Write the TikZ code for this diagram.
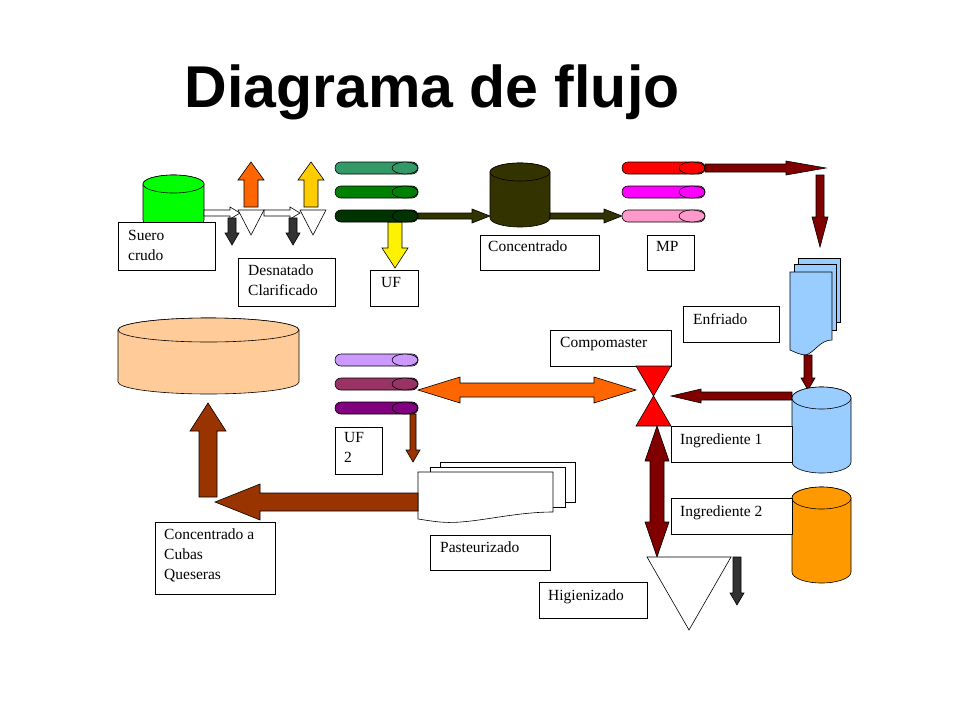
\documentclass[tikz,border=0pt]{standalone}
\usepackage{fontspec}
\setmainfont{Liberation Serif}
\newfontfamily\serifx{Liberation Serif}
\newfontfamily\titlefont{Liberation Sans}
\begin{document}
\begin{tikzpicture}[x=1pt,y=-1pt,line join=miter,
  box/.style={draw=black,fill=white,line width=0.8pt,inner sep=0pt,anchor=north west},
  lbl/.style={anchor=north west,inner sep=0pt,align=left,font=\serifx\fontsize{15.5}{20}\selectfont},
  sh/.style={draw=black,line width=0.6pt}]
\newcommand\BarR[7]{\fill[#7,sh] (#1,{#3-#4})--({#2-#6},{#3-#4})--({#2-#6},{#3-#5})--(#2,#3)--({#2-#6},{#3+#5})--({#2-#6},{#3+#4})--(#1,{#3+#4})--cycle;}
\newcommand\BarL[7]{\fill[#7,sh] (#1,{#3-#4})--({#2+#6},{#3-#4})--({#2+#6},{#3-#5})--(#2,#3)--({#2+#6},{#3+#5})--({#2+#6},{#3+#4})--(#1,{#3+#4})--cycle;}
\newcommand\BarD[7]{\fill[#7,sh] ({#1-#4},#2)--({#1-#4},{#3-#6})--({#1-#5},{#3-#6})--(#1,#3)--({#1+#5},{#3-#6})--({#1+#4},{#3-#6})--({#1+#4},#2)--cycle;}
\newcommand\BarU[7]{\fill[#7,sh] ({#1-#4},#2)--({#1-#4},{#3+#6})--({#1-#5},{#3+#6})--(#1,#3)--({#1+#5},{#3+#6})--({#1+#4},{#3+#6})--({#1+#4},#2)--cycle;}
\newcommand\BarLR[7]{\fill[#7,sh] (#1,#3)--({#1+#6},{#3-#5})--({#1+#6},{#3-#4})--({#2-#6},{#3-#4})--({#2-#6},{#3-#5})--(#2,#3)--({#2-#6},{#3+#5})--({#2-#6},{#3+#4})--({#1+#6},{#3+#4})--({#1+#6},{#3+#5})--cycle;}
\newcommand\BarUD[7]{\fill[#7,sh] (#1,#2)--({#1-#5},{#2+#6})--({#1-#4},{#2+#6})--({#1-#4},{#3-#6})--({#1-#5},{#3-#6})--(#1,#3)--({#1+#5},{#3-#6})--({#1+#4},{#3-#6})--({#1+#4},{#2+#6})--({#1+#5},{#2+#6})--cycle;}
\newcommand\Cyl[6]{\fill[#6,sh] (#1,#2)--(#1,{#2+#4}) arc[start angle=180,end angle=0,x radius={#3/2},y radius=#5]--({#1+#3},#2) arc[start angle=0,end angle=-180,x radius={#3/2},y radius=#5]--cycle;
  \fill[#6,sh] ({#1+#3/2},#2) ellipse[x radius={#3/2},y radius=#5];}
\newcommand\Pill[3]{\fill[#3,sh,rounded corners=6] (#1,{#2-6}) rectangle ({#1+83},{#2+6});
  \fill[#3,sh] ({#1+70},#2) ellipse[x radius=13,y radius=6];}
\definecolor{olive3}{HTML}{333300}
\definecolor{dred}{HTML}{800000}
\definecolor{brn}{HTML}{993300}
\definecolor{dgray}{HTML}{333333}
\definecolor{gA}{HTML}{339966}
\definecolor{gB}{HTML}{008000}
\definecolor{gC}{HTML}{003300}
\definecolor{lgreen}{HTML}{00FF00}
\definecolor{orA}{HTML}{FF6600}
\definecolor{yeA}{HTML}{FFCC00}
\definecolor{mag}{HTML}{FF00FF}
\definecolor{pnk}{HTML}{FF99CC}
\definecolor{lblue}{HTML}{99CCFF}
\definecolor{orB}{HTML}{FF9900}
\definecolor{peach}{HTML}{FFCC99}
\definecolor{pA}{HTML}{CC99FF}
\definecolor{pB}{HTML}{993366}
\definecolor{pC}{HTML}{800080}
\useasboundingbox (0,0) rectangle (960,720);
\node[font=\titlefont\bfseries\fontsize{59}{64}\selectfont,inner sep=0pt] (title) at (432,92) {Diagrama de flujo};
% top row
\Cyl{143}{184}{61}{36}{9}{lgreen}
\node[box,minimum width=97,minimum height=48] (suero) at (118,222) {};
\node[lbl] at (128,230) {Suero\\crudo};
\BarR{204}{240}{213}{3}{6}{10}{white}
\BarR{264}{300}{213}{3}{6}{10}{white}
\fill[white,sh] (238,210)--(264,210)--(251,235)--cycle;
\fill[white,sh] (300,210)--(326,210)--(313,235)--cycle;
\BarU{251}{207}{162}{7}{13}{18}{orA}
\BarU{311}{207}{162}{7}{13}{18}{yeA}
\BarD{232}{218}{245}{4}{7}{12}{dgray}
\BarD{293}{218}{245}{4}{7}{12}{dgray}
\node[box,minimum width=97,minimum height=48] (desn) at (238,258) {};
\node[lbl] at (248,265) {Desnatado\\Clarificado};
\Pill{335}{168}{gA}
\Pill{335}{192}{gB}
\BarD{395}{222}{268}{7}{13}{20}{yellow}
\Pill{335}{216}{gC}
\node[box,minimum width=48,minimum height=36] (uf) at (370,270) {};
\node[lbl] at (381,277) {UF};
\BarR{418}{490}{216}{3}{7}{18}{olive3}
\Cyl{490}{172}{60}{46}{9}{olive3}
\node[box,minimum width=119,minimum height=35] (conc) at (480,235) {};
\node[lbl] at (488,241) {Concentrado};
\BarR{550}{622}{216}{3}{7}{18}{olive3}
\Pill{622}{168}{red}
\Pill{622}{192}{mag}
\Pill{622}{216}{pnk}
\node[box,minimum width=47,minimum height=35] (mp) at (647,235) {};
\node[lbl] at (656,241) {MP};
\BarR{705}{826}{168}{4}{7}{40}{dred}
\BarD{820}{175}{247}{4}{8}{30}{dred}
% doc stack blue
\fill[lblue,sh] (798,258) rectangle (840,322);
\fill[lblue,sh] (794,264) rectangle (836,330);
\fill[lblue,sh] (790,272)--(832,272)--(832,340) .. controls (820,340) and (815,352) .. (806,355) .. controls (800,355) and (795,352) .. (790,350)--cycle;
\node[box,minimum width=96,minimum height=36] (enf) at (683,306) {};
\node[lbl] at (693,313) {Enfriado};
\node[box,minimum width=121,minimum height=36] (comp) at (550,330) {};
\node[lbl] at (560,337) {Compomaster};
\fill[red,sh] (636,366)--(671,366)--(653.5,396)--cycle;
\fill[red,sh] (653.5,396)--(636,426)--(671,426)--cycle;
\BarD{808}{355}{390}{4}{7}{12}{dred}
\BarL{792}{671}{396}{4}{7}{30}{dred}
\Cyl{792}{398}{59}{64}{11}{lblue}
\node[box,minimum width=121,minimum height=36] (ing1) at (671,426) {};
\node[lbl] at (680,434) {Ingrediente 1};
\Cyl{792}{498}{59}{74}{11}{orB}
\node[box,minimum width=121,minimum height=36] (ing2) at (671,498) {};
\node[lbl] at (680,506) {Ingrediente 2};
\BarUD{657}{426}{557}{7}{12}{35}{dred}
\fill[white,sh] (647,557)--(731,557)--(689,630)--cycle;
\BarD{737}{557}{605}{4}{7}{12}{dgray}
\node[box,minimum width=108,minimum height=36] (hig) at (539,582) {};
\node[lbl] at (548,590) {Higienizado};
% lower left
\Cyl{118}{330}{181}{52}{12}{peach}
\Pill{335}{360}{pA}
\Pill{335}{384}{pB}
\Pill{335}{408}{pC}
\BarLR{418}{636}{390}{7}{13}{42}{orA}
\node[box,minimum width=47,minimum height=47] (uf2) at (335,427) {};
\node[lbl] at (344,432) {UF\\2};
\BarD{413}{414}{462}{3}{7}{12}{brn}
\fill[white,sh] (440,462) rectangle (575,502);
\fill[white,sh] (430,467) rectangle (565,507);
\fill[white,sh] (418,472)--(553,472)--(553,512) .. controls (510,512) and (470,525) .. (440,522) .. controls (430,521) and (425,520) .. (418,519)--cycle;
\node[box,minimum width=120,minimum height=35] (past) at (430,535) {};
\node[lbl] at (440,542) {Pasteurizado};
\BarL{418}{215}{502}{9}{18}{45}{brn}
\BarU{208}{497}{403}{9}{18}{28}{brn}
\node[box,minimum width=120,minimum height=72] (cubas) at (155,522) {};
\node[lbl] at (164,529) {Concentrado a\\Cubas\\Queseras};
\end{tikzpicture}
\end{document}
